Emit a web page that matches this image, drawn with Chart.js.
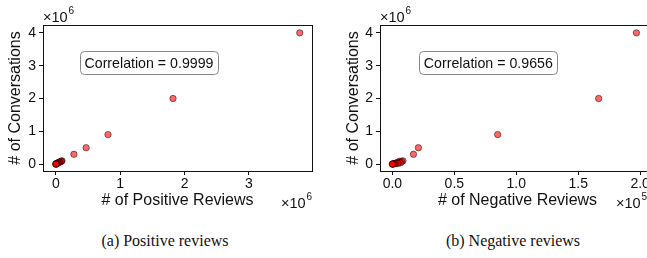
<!DOCTYPE html>
<meta charset="utf-8">
<title>Conversations vs reviews</title>
<style>
  body { margin: 0; background: #fff; }
  #wrap { position: relative; width: 647px; height: 258px; overflow: hidden; }
  canvas { position: absolute; top: 0; }
  .cap { position: absolute; top: 232px; font: 16px "Liberation Serif", "Times New Roman", serif; color: #111; transform: translateX(-50%); white-space: nowrap; }
</style>
<div id="wrap">
  <canvas id="pos" width="330" height="215" style="left:0"></canvas>
  <canvas id="neg" width="330" height="215" style="left:330px"></canvas>
  <div class="cap" style="left:165px">(a) Positive reviews</div>
  <div class="cap" style="left:513px">(b) Negative reviews</div>
</div>
<script src="https://cdn.jsdelivr.net/npm/chart.js@4"></script>
<script>
  // one entry per item: conversations, positive and negative review counts
  const conversations   = [4.0e6, 2.0e6, 9.0e5, 5.0e5, 3.0e5, 1.0e5, 9.0e4, 8.0e4, 6.0e4, 5.0e4, 4.0e4, 3.0e4, 2.0e4, 1.5e4, 1.0e4, 5e3, 2e3, 1e3, 0]
  const positiveReviews = [3.79e6, 1.82e6, 8.1e5, 4.7e5, 2.8e5, 9.5e4, 8.5e4, 8.0e4, 6.0e4, 4.5e4, 3.5e4, 3.0e4, 2.0e4, 1.2e4, 8e3, 4e3, 2e3, 1e3, 0]
  const negativeReviews = [1.97e5, 1.665e5, 8.5e4, 2.1e4, 1.7e4, 8.5e3, 6e3, 7.5e3, 5e3, 4e3, 6.5e3, 3e3, 4.5e3, 2e3, 1e3, 500, 200, 0, 0]

  const yTicks = [0, 1, 2, 3, 4]
  const posTicks = [0, 1, 2, 3]
  const negTicks = [0, 0.5, 1.0, 1.5, 2.0]

  const FONT = "'Liberation Sans', Arial, sans-serif"
  Chart.defaults.font.family = FONT
  Chart.defaults.color = "#111"

  function drawExp(ctx, x, y, exp) {
    ctx.font = "14.5px " + FONT
    ctx.fillStyle = "#111"
    ctx.textAlign = "left"
    ctx.textBaseline = "alphabetic"
    ctx.fillText("\u00d710", x, y)
    const w = ctx.measureText("\u00d710").width
    ctx.font = "10px " + FONT
    ctx.fillText(exp, w + x + 1, y - 8)
  }

  const frame = {
    id: "frame",
    afterDraw(chart, args, o) {
      const { ctx, chartArea: a } = chart
      ctx.save()
      ctx.strokeStyle = "#111"
      ctx.lineWidth = 1
      ctx.strokeRect(Math.round(a.left) + 0.5, Math.round(a.top) + 0.5, Math.round(a.right - a.left), Math.round(a.bottom - a.top))

      // correlation box
      const text = "Correlation = " + o.corr
      ctx.font = "14.2px " + FONT
      const tw = ctx.measureText(text).width
      const cx = a.left + 0.394 * (a.right - a.left)
      const cy = a.top + 0.26 * (a.bottom - a.top)
      const bw = tw + 9, bh = 23
      ctx.beginPath()
      ctx.roundRect(Math.round(cx - bw / 2) + 0.5, Math.round(cy - bh / 2) + 0.5, Math.round(bw), bh, 4)
      ctx.fillStyle = "#fff"
      ctx.fill()
      ctx.strokeStyle = "#888"
      ctx.stroke()
      ctx.fillStyle = "#111"
      ctx.textAlign = "center"
      ctx.textBaseline = "middle"
      ctx.fillText(text, cx, cy + 1)

      drawExp(ctx, a.left, a.top - 3, "6")
      drawExp(ctx, o.xExpX, 208, o.xExp)
      ctx.restore()
    },
  }

  function scatter(id, xs, xDiv, xTicks, xRange, axisW, padR, titlePad, xTitle, fmt, plug) {
    return new Chart(document.getElementById(id), {
      type: "scatter",
      data: {
        datasets: [{
          data: xs.map((v, i) => ({ x: v / xDiv, y: conversations[i] / 1e6 })),
          backgroundColor: "rgba(255,0,0,0.6)",
          borderColor: "rgba(0,0,0,0.6)",
          borderWidth: 0.8,
          pointRadius: 3.2,
        }],
      },
      options: {
        responsive: false,
        animation: false,
        layout: { padding: { left: 0, right: padR, top: 25, bottom: 0 } },
        plugins: { legend: { display: false }, tooltip: { enabled: false }, frame: plug },
        scales: {
          x: {
            type: "linear",
            min: xRange[0],
            max: xRange[1],
            afterBuildTicks: s => { s.ticks = xTicks.map(v => ({ value: v })) },
            afterFit: s => { s.height = 44 },
            grid: { drawOnChartArea: false, tickLength: 4, color: "#111" },
            border: { color: "#111" },
            ticks: { font: { size: 14 }, padding: 1, callback: fmt, maxRotation: 0 },
            title: { display: true, text: xTitle, font: { size: 16 }, padding: { top: 0, bottom: 5 } },
          },
          y: {
            min: -0.21,
            max: 4.24,
            afterBuildTicks: s => { s.ticks = yTicks.map(v => ({ value: v })) },
            afterFit: s => { s.width = axisW },
            grid: { drawOnChartArea: false, tickLength: 4, color: "#111" },
            border: { color: "#111" },
            ticks: { font: { size: 14 }, padding: 3 },
            title: { display: true, text: "# of Conversations", font: { size: 16 }, padding: { top: titlePad, bottom: 0 } },
          },
        },
      },
      plugins: [frame],
    })
  }

  scatter("pos", positiveReviews, 1e6, posTicks, [-0.2, 3.98], 43, 18, 6,
    "# of Positive Reviews", v => String(v), { corr: "0.9999", xExp: "6", xExpX: 281 })
  scatter("neg", negativeReviews, 1e5, negTicks, [-0.1, 2.12], 50, 5, 14,
    "# of Negative Reviews", v => v.toFixed(1), { corr: "0.9656", xExp: "5", xExpX: 286 })
</script>
